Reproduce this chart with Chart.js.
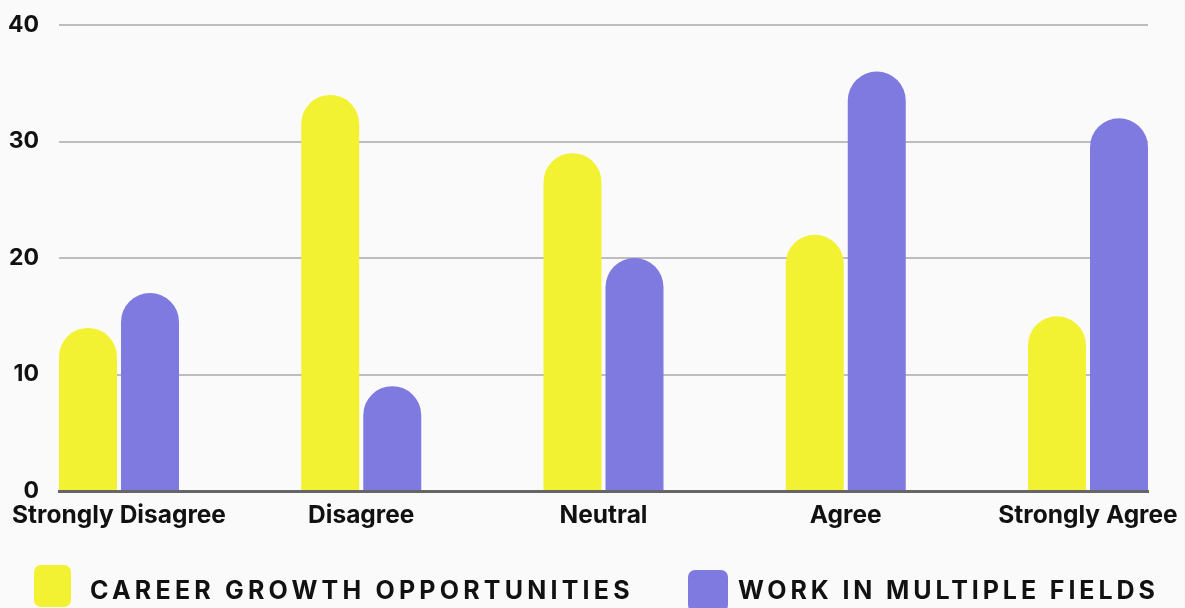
<!DOCTYPE html>
<html lang="en">
<head>
    <meta charset="UTF-8">
    <title>Survey chart</title>
    <script src="https://cdn.jsdelivr.net/npm/chart.js@4.4.1/dist/chart.umd.min.js"></script>
    <style>
        html, body { margin: 0; padding: 0; background: #fafafa; }
        #wrap { position: relative; width: 1185px; height: 608px; overflow: hidden; }
        .legend-box { position: absolute; border-radius: 7px; height: 42px; }
        .legend-text { position: absolute; height: 42px; line-height: 42px; white-space: nowrap; font-family: Inter, "Liberation Sans", Arial, sans-serif; font-weight: 700; font-size: 25px; letter-spacing: 4.2px; color: #111; }
    </style>
</head>
<body>
    <div id="wrap">
        <canvas id="chart" width="1185" height="608"></canvas>
        <span class="legend-box" id="box1" style="left:34px; top:565px; width:37px;"></span>
        <span class="legend-text" id="txt1" style="left:90px; top:569px;"></span>
        <span class="legend-box" id="box2" style="left:688px; top:570px; width:40px;"></span>
        <span class="legend-text" id="txt2" style="left:738px; top:569px; letter-spacing:3.9px;"></span>
    </div>
    <script>
        // chart data
        var categories = ['Strongly Disagree', 'Disagree', 'Neutral', 'Agree', 'Strongly Agree'];
        var seriesNames = ['CAREER GROWTH OPPORTUNITIES', 'WORK IN MULTIPLE FIELDS'];
        var careerGrowth = [14, 34, 29, 22, 15];
        var multipleFields = [17, 9, 20, 36, 32];
        var yTicks = [0, 10, 20, 30, 40];

        var yellow = '#f2f233';
        var purple = '#7e7adf';
        var font = 'Inter, "Liberation Sans", Arial, sans-serif';

        function toPoints(values) {
            return values.map(function (v, i) { return { x: i, y: v }; });
        }

        // legend in html so letter spacing works
        document.getElementById('box1').style.background = yellow;
        document.getElementById('box2').style.background = purple;
        document.getElementById('txt1').textContent = seriesNames[0];
        document.getElementById('txt2').textContent = seriesNames[1];

        var edge = 60 / 242.25; // space before first / after last category

        function barSet(name, values, color) {
            return {
                label: name,
                data: toPoints(values),
                backgroundColor: color,
                borderRadius: { topLeft: 29, topRight: 29, bottomLeft: 0, bottomRight: 0 },
                borderSkipped: 'bottom',
                categoryPercentage: 0.512,
                barPercentage: 0.935
            };
        }

        new Chart(document.getElementById('chart'), {
            type: 'bar',
            data: {
                datasets: [
                    barSet(seriesNames[0], careerGrowth, yellow),
                    barSet(seriesNames[1], multipleFields, purple)
                ]
            },
            options: {
                responsive: false,
                animation: false,
                layout: { padding: { top: 25, right: 37, bottom: 67, left: 0 } },
                plugins: {
                    legend: { display: false },
                    tooltip: { enabled: false }
                },
                scales: {
                    x: {
                        type: 'linear',
                        offset: false,
                        min: -edge,
                        max: categories.length - 1 + edge,
                        afterBuildTicks: function (scale) {
                            scale.ticks = categories.map(function (c, i) { return { value: i }; });
                        },
                        afterFit: function (scale) {
                            scale.height = 50;
                            scale.paddingLeft = 0;
                            scale.paddingRight = 0;
                        },
                        grid: { display: false, drawTicks: false, offset: false },
                        border: { display: true, color: '#666666', width: 3, z: 1 },
                        ticks: {
                            autoSkip: false,
                            maxRotation: 0,
                            padding: 10,
                            color: '#111',
                            font: { family: font, size: 24.5, weight: '700' },
                            callback: function (v) { return categories[v]; }
                        }
                    },
                    y: {
                        min: yTicks[0],
                        max: yTicks[yTicks.length - 1],
                        afterBuildTicks: function (scale) {
                            scale.ticks = yTicks.map(function (v) { return { value: v }; });
                        },
                        afterFit: function (scale) {
                            scale.width = 59;
                            scale.paddingTop = 0;
                            scale.paddingBottom = 0;
                        },
                        grid: { color: '#bdbdbd', lineWidth: 2, drawTicks: false },
                        border: { display: false },
                        ticks: {
                            padding: 20,
                            color: '#111',
                            font: { family: font, size: 23, weight: '700' }
                        }
                    }
                }
            }
        });
    </script>
</body>
</html>
